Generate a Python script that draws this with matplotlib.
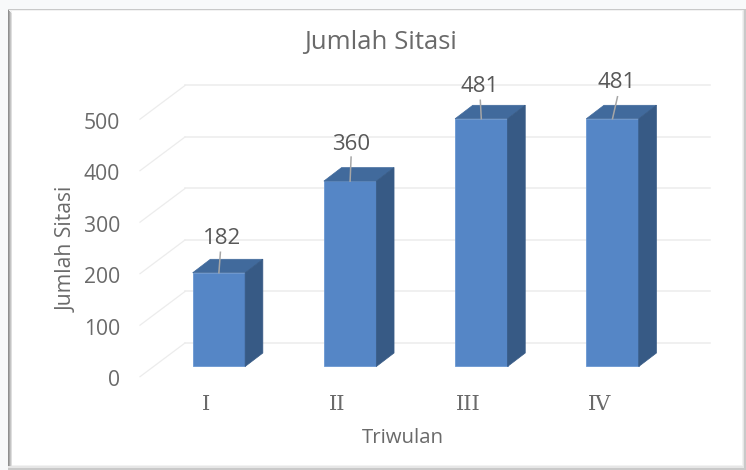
import matplotlib
matplotlib.use("Agg")
import matplotlib.pyplot as plt
from matplotlib.patches import Rectangle, Polygon
from matplotlib.transforms import ScaledTranslation

categories = ["I", "II", "III", "IV"]
values = [182, 360, 481, 481]
y_ticks = [0, 100, 200, 300, 400, 500]
title = "Jumlah Sitasi"
x_title = "Triwulan"
y_title = "Jumlah Sitasi"

W, H = 746, 470
DPI = 100
TEXT = "#6a6a6a"
FONT = "Open Sans"
plt.rcParams["font.family"] = [FONT, "DejaVu Sans"]

fig = plt.figure(figsize=(W / DPI, H / DPI), dpi=DPI, facecolor="#f8f9fa")


def px_rect(x0, y0, x1, y1, color, z=0):
    fig.add_artist(Rectangle((x0 / W, 1 - y1 / H), (x1 - x0) / W, (y1 - y0) / H,
                             transform=fig.transFigure, facecolor=color,
                             edgecolor="none", zorder=z))


# panel with bevelled frame
px_rect(8, 9, 746, 470, "#c9c9c9", 0)
px_rect(8, 10, 744, 468, "#e6e6e6", 0.1)
px_rect(8, 10, 743, 466, "#f2f2f2", 0.2)
for i, c in enumerate(["#8f8f8f", "#a8a8a8", "#c4c4c4", "#dedede"]):
    px_rect(8 + i, 10 + i, 9 + i, 466, c, 0.3)
px_rect(12, 11, 742, 465, "#ffffff", 0.4)

# axes occupy the front plane of the 3D box
x0_px, x1_px = 140, 664.8
y0_px, y1_px = 376.7, 119.2
ax = fig.add_axes([x0_px / W, 1 - y0_px / H, (x1_px - x0_px) / W, (y0_px - y1_px) / H])
ax.set_zorder(5)
ax.patch.set_alpha(0)
ax.set_xlim(-0.5, 3.5)
ax.set_ylim(0, 500)
for s in ax.spines.values():
    s.set_visible(False)

ax.set_yticks(y_ticks)
ax.tick_params(axis="y", length=0, pad=14.4, labelsize=15.2, labelcolor=TEXT)
for lab in ax.get_yticklabels():
    lab.set_transform(lab.get_transform() + ScaledTranslation(0, -1.5 / DPI, fig.dpi_scale_trans))
ax.set_xticks(range(len(categories)), categories, fontfamily="DejaVu Serif")
ax.tick_params(axis="x", length=0, pad=13.5, labelsize=15, labelcolor=TEXT)

# depth offsets in pixels
wall_dx, wall_dy = 45, 33.7
plane_dx, plane_dy = 13.3, 10.2
depth_dx, depth_dy = 17.7, 13.5
bar_width = 0.4


def shift(dx, dy):
    return ax.transData + ScaledTranslation(dx / DPI, dy / DPI, fig.dpi_scale_trans)


# gridlines: diagonal on the side wall, horizontal on the back wall
to_back = shift(wall_dx, wall_dy)
grid_c = "#ececec"
for t in y_ticks:
    ax.plot([-0.5, 3.5], [t, t], color=grid_c, lw=1.1, clip_on=False,
            zorder=1, transform=to_back)
    p0 = ax.transData.transform((-0.5, t))
    p1 = to_back.transform((-0.5, t))
    ax.plot([p0[0], p1[0]], [p0[1], p1[1]], color=grid_c, lw=0.9, clip_on=False,
            zorder=1, transform=None)

# bars
to_plane = shift(plane_dx, plane_dy)
front_c, top_c, side_c = "#5586c6", "#416a9c", "#375a85"
for i, v in enumerate(values):
    ax.bar(i, v, width=bar_width, color=front_c, edgecolor="#6a98d2", linewidth=0.6,
           transform=to_plane, clip_on=False, zorder=3)
    l, r = i - bar_width / 2, i + bar_width / 2
    bl = to_plane.transform((l, v))
    br = to_plane.transform((r, v))
    rb = to_plane.transform((r, 0))
    top = [bl, br, br + (depth_dx, depth_dy), bl + (depth_dx, depth_dy)]
    side = [rb, br, br + (depth_dx, depth_dy), rb + (depth_dx, depth_dy)]
    ax.add_patch(Polygon(top, closed=True, facecolor=top_c, edgecolor=top_c, lw=0.5,
                         transform=None, clip_on=False, zorder=3))
    ax.add_patch(Polygon(side, closed=True, facecolor=side_c, edgecolor=side_c, lw=0.5,
                         transform=None, clip_on=False, zorder=3))

# data labels with leader lines (offsets in pixels from the bar's top front edge)
label_off = [(3, 34), (1.5, 37), (-1.5, 32), (4.5, 36)]
leader_off = [(1.5, 20.5), (1, 24), (-1, 18.5), (5, 22)]
for i, v in enumerate(values):
    a = to_plane.transform((i, v))
    ax.plot([a[0], a[0] + leader_off[i][0]], [a[1], a[1] + leader_off[i][1]],
            color="#a6a6a6", lw=1.1, transform=None, clip_on=False, zorder=4)
    ax.annotate(str(v), xy=(a[0] + label_off[i][0], a[1] + label_off[i][1]),
                xycoords="figure pixels", ha="center", va="center",
                fontsize=16, color="#585858", zorder=5)

fig.text(380 / W, 1 - 42 / H, title, ha="center", va="center", fontsize=18.5, color=TEXT, zorder=6)
fig.text(402.5 / W, 1 - 438 / H, x_title, ha="center", va="center", fontsize=14.7, color=TEXT, zorder=6)
fig.text(67 / W, 1 - 249 / H, y_title, ha="center", va="center", rotation=90,
         fontsize=15.2, color=TEXT, zorder=6)

fig.savefig("out.png", dpi=DPI, facecolor=fig.get_facecolor())
